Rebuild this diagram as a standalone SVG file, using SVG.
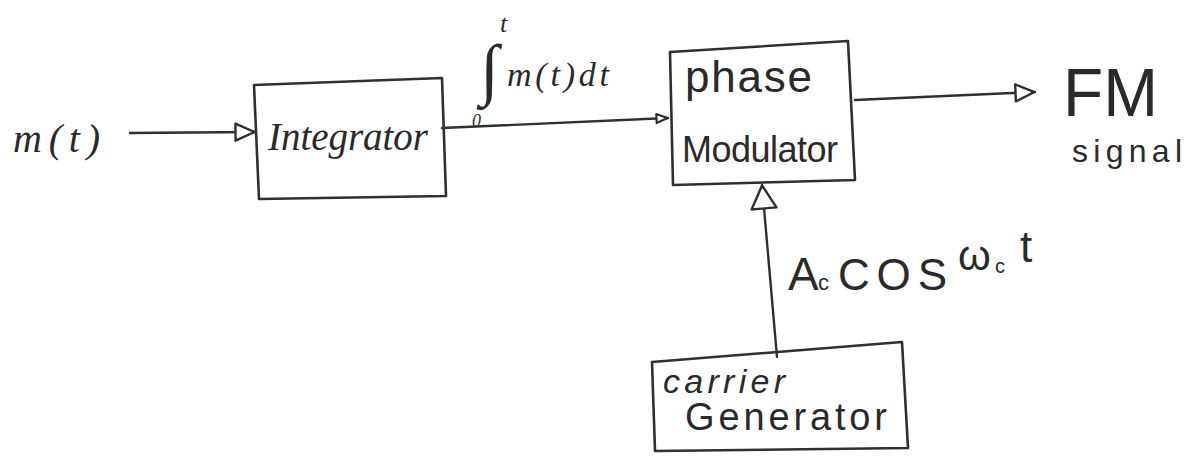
<svg xmlns="http://www.w3.org/2000/svg" width="1201" height="461" viewBox="0 0 1201 461">
<defs>
<style>
.box{fill:none;stroke:#2f2f2f;stroke-width:2.6;stroke-linejoin:round}
.wire{fill:none;stroke:#2f2f2f;stroke-width:2.4;stroke-linecap:round}
.hand{font-family:"Liberation Sans",Arial,sans-serif;fill:#2a2a2a}
.math{font-family:"Liberation Serif","Times New Roman",serif;font-style:italic;fill:#2a2a2a}
</style>
<marker id="arrow" viewBox="0 0 22 20" refX="21" refY="10" markerWidth="22" markerHeight="20" markerUnits="userSpaceOnUse" orient="auto">
<path d="M1.5,1.5 L20.5,10 L1.5,18.5 Z" fill="#fff" stroke="#2f2f2f" stroke-width="2.4" stroke-linejoin="round"/>
</marker>
<marker id="arrowBig" viewBox="0 0 26 28" refX="25" refY="14" markerWidth="26" markerHeight="28" markerUnits="userSpaceOnUse" orient="auto">
<path d="M1.5,1.5 L24.5,14 L1.5,26.5 Z" fill="#fff" stroke="#2f2f2f" stroke-width="2.4" stroke-linejoin="round"/>
</marker>
<marker id="arrowSmall" viewBox="0 0 14 12" refX="13" refY="6" markerWidth="14" markerHeight="12" markerUnits="userSpaceOnUse" orient="auto">
<path d="M1.5,1.5 L12.5,6 L1.5,10.5 Z" fill="#fff" stroke="#2f2f2f" stroke-width="2.2" stroke-linejoin="round"/>
</marker>
</defs>
<rect width="1201" height="461" fill="#fff"/>

<g id="connectors">
<path class="wire" d="M130,133 L255,132" marker-end="url(#arrow)"/>
<path class="wire" d="M442,128 L668,118" marker-end="url(#arrowSmall)"/>
<path class="wire" d="M855,100 L1035,92" marker-end="url(#arrow)"/>
<path class="wire" d="M777,357 L762,185" marker-end="url(#arrowBig)"/>
</g>

<g id="input-label">
<text class="math" x="13" y="152" font-size="40" textLength="87" lengthAdjust="spacing">m(t)</text>
</g>

<g id="integrator">
<path class="box" d="M254,85 L442,78 L446,196 L259,199 Z"/>
<text class="math" x="268" y="150" font-size="39" textLength="160" lengthAdjust="spacing">Integrator</text>
</g>

<g id="integral-label">
<text class="math" x="480" y="92" font-size="68" font-style="normal">∫</text>
<text class="math" x="500" y="32" font-size="26">t</text>
<text class="math" x="472" y="127" font-size="18">0</text>
<text class="math" x="507" y="86" font-size="34" textLength="102" lengthAdjust="spacing">m(t)dt</text>
</g>

<g id="phase-modulator">
<path class="box" d="M670,52 L848,41 L855,180 L673,185 Z"/>
<text class="hand" x="685" y="92" font-size="44" textLength="127" lengthAdjust="spacing">phase</text>
<text class="hand" x="682" y="162" font-size="36" textLength="156" lengthAdjust="spacing">Modulator</text>
</g>

<g id="fm-output">
<text class="hand" x="1063" y="116" font-size="68" textLength="95" lengthAdjust="spacingAndGlyphs">FM</text>
<text class="hand" x="1072" y="162" font-size="32" textLength="110" lengthAdjust="spacing">signal</text>
</g>

<g id="carrier-label">
<text class="hand" x="788" y="290" font-size="46">A<tspan x="818" font-size="22">c</tspan><tspan x="838" font-size="44" textLength="109" lengthAdjust="spacing">COS</tspan><tspan x="958" y="270" font-size="42">ω</tspan><tspan x="995" y="273" font-size="20">c</tspan><tspan x="1020" y="262" font-size="44">t</tspan></text>
</g>

<g id="carrier-generator">
<path class="box" d="M652,362 L902,342 L908,448 L655,451 Z"/>
<text class="hand" x="663" y="393" font-size="34" font-style="italic" textLength="122" lengthAdjust="spacing">carrier</text>
<text class="hand" x="685" y="430" font-size="38" textLength="202" lengthAdjust="spacing">Generator</text>
</g>
</svg>
